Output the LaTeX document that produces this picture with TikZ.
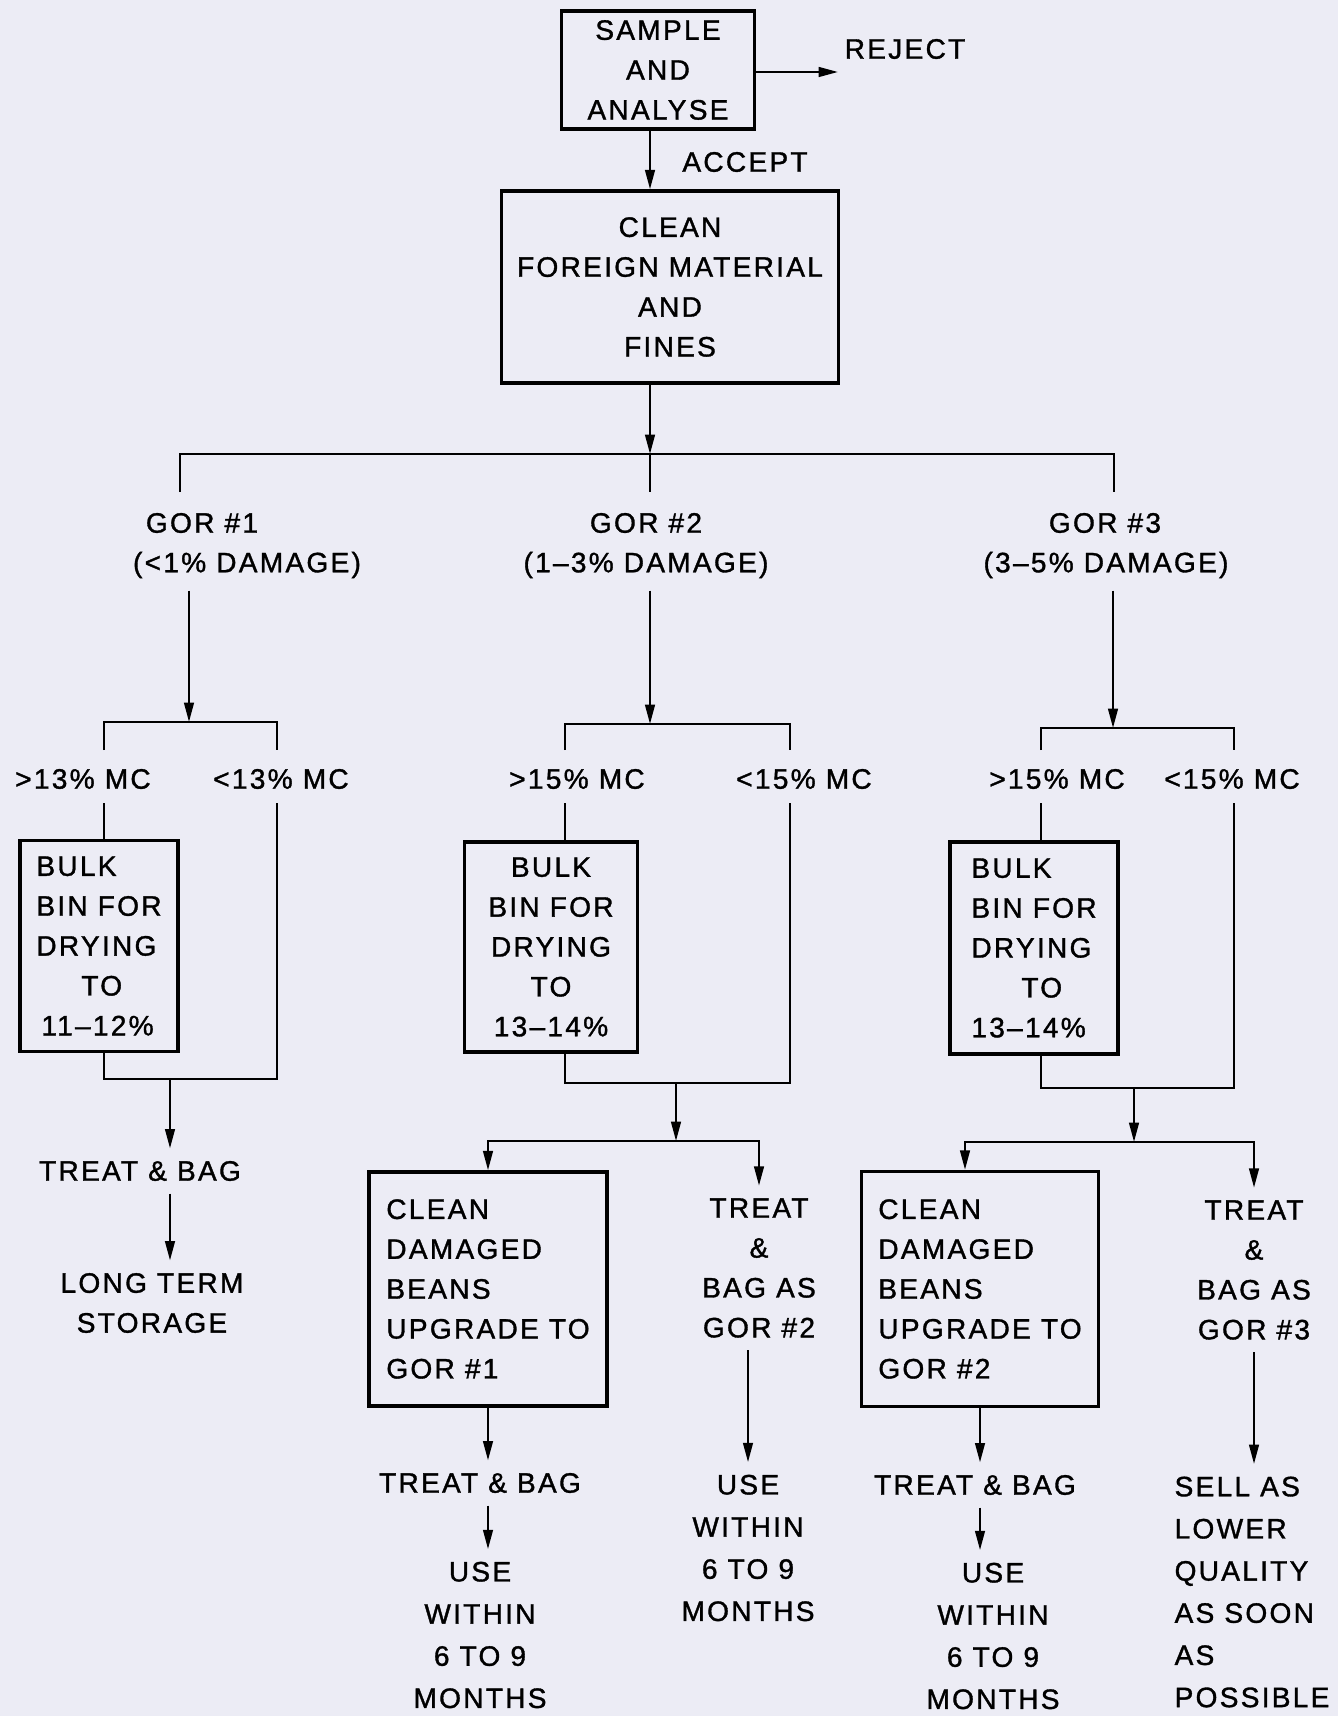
\documentclass[tikz,border=0pt]{standalone}
\usepackage{fontspec}
\setmainfont[LetterSpace=8,FakeBold=1.2]{Liberation Sans}
\usepackage{tikz}
\usetikzlibrary{arrows.meta}
\definecolor{paper}{RGB}{236,236,245}

\begin{document}
\begin{tikzpicture}[x=0.02cm,y=-0.02cm,
  font={\fontsize{16}{22.7}\selectfont},
  box/.style={draw,line width=2pt,align=center,inner sep=0pt},
  lbl/.style={align=center,inner sep=7pt},
  tall/.style={font={\fontsize{16}{24}\selectfont}},
  wire/.style={line width=1.3pt},
  flow/.style={wire,-{Triangle[length=11pt,width=5.5pt]}}]
\useasboundingbox (0,0) rectangle (1338,1716);
\fill[paper] (0,0) rectangle (1338,1716);

% sampling and first cleaning
\node[box,minimum width=3.86cm,minimum height=2.36cm] (sample) at (658,70) {SAMPLE\\AND\\ANALYSE};
\node[lbl] (reject) at (905,49) {REJECT};
\coordinate (rj) at (838,72);
\draw[flow] (sample.east |- rj) -- (rj);
\node[box,minimum width=6.74cm,minimum height=3.84cm] (clean) at (670,287) {CLEAN\\FOREIGN MATERIAL\\AND\\FINES};
\node[lbl] (accept) at (745,162) {ACCEPT};
\coordinate (trunk) at (650,454);
\draw[flow] (sample.south -| trunk) -- (clean.north -| trunk);
\draw[flow] (clean.south -| trunk) -- (trunk);
\coordinate (d1) at (180,492);
\coordinate (d2) at (650,492);
\coordinate (d3) at (1114,492);
\draw[wire] (d1) |- (trunk) -| (d3);
\draw[wire] (trunk) -- (d2);

\node[lbl] (gor1) at (202,523) {GOR \#1};
\node[lbl] (dmg1) at (247,565) {(<1\% DAMAGE)};
\node[lbl] (gor2) at (646,523) {GOR \#2};
\node[lbl] (dmg2) at (646,565) {(1--3\% DAMAGE)};
\node[lbl] (gor3) at (1105,523) {GOR \#3};
\node[lbl] (dmg3) at (1106,565) {(3--5\% DAMAGE)};

% GOR 1
\coordinate (j1) at (189,722);
\draw[flow] (dmg1.south -| j1) -- (j1);
\coordinate (l1) at (104,750);
\coordinate (r1) at (277,750);
\draw[wire] (l1) |- (j1) -| (r1);
\node[lbl] (hi1) at (83,779) {>13\% MC};
\node[lbl] (lo1) at (281,779) {<13\% MC};
\coordinate (l1b) at (104,803);
\coordinate (r1b) at (277,803);
\node[box,align=left,minimum width=3.16cm,minimum height=4.22cm] (bulk1) at (99,946) {BULK\\BIN FOR\\DRYING\\\hspace*{0.9cm}TO\\\hspace*{0.1cm}11--12\%};
\draw[wire] (l1b) -- (bulk1.north -| l1b);
\coordinate (k1) at (170,1079);
\draw[wire] (bulk1.south -| l1b) |- (k1) -| (r1b);
\node[lbl] (bag1) at (140,1171) {TREAT \& BAG};
\draw[flow] (k1) -- (bag1.north -| k1);
\node[lbl] (store) at (152,1303) {LONG TERM\\STORAGE};
\draw[flow] (bag1.south -| k1) -- (store.north -| k1);

% GOR 2
\coordinate (j2) at (650,724);
\draw[flow] (dmg2.south -| j2) -- (j2);
\coordinate (l2) at (565,750);
\coordinate (r2) at (790,750);
\draw[wire] (l2) |- (j2) -| (r2);
\node[lbl] (hi2) at (577,779) {>15\% MC};
\node[lbl] (lo2) at (804,779) {<15\% MC};
\coordinate (l2b) at (565,803);
\coordinate (r2b) at (790,803);
\node[box,minimum width=3.46cm,minimum height=4.2cm] (bulk2) at (551,947) {BULK\\BIN FOR\\DRYING\\TO\\13--14\%};
\draw[wire] (l2b) -- (bulk2.north -| l2b);
\coordinate (k2) at (676,1083);
\draw[wire] (bulk2.south -| l2b) |- (k2) -| (r2b);
\coordinate (s2) at (676,1141);
\draw[flow] (k2) -- (s2);
\node[box,align=left,minimum width=4.76cm,minimum height=4.68cm] (up1) at (488,1289) {CLEAN\\DAMAGED\\BEANS\\UPGRADE TO\\GOR \#1};
\node[lbl] (bag2) at (759,1268) {TREAT\\\&\\BAG AS\\GOR \#2};
\draw[flow] (s2) -| (up1.north);
\draw[flow] (s2) -| (bag2.north);
\node[lbl] (bag3) at (480,1483) {TREAT \& BAG};
\draw[flow] (up1.south) -- (bag3.north -| up1.south);
\node[lbl,tall] (use1) at (480,1635) {USE\\WITHIN\\6 TO 9\\MONTHS};
\draw[flow] (bag3.south -| up1.south) -- (use1.north -| up1.south);
\node[lbl,tall] (use2) at (748,1548) {USE\\WITHIN\\6 TO 9\\MONTHS};
\draw[flow] (bag2.south -| use2.north) -- (use2.north);

% GOR 3
\coordinate (j3) at (1113,728);
\draw[flow] (dmg3.south -| j3) -- (j3);
\coordinate (l3) at (1041,750);
\coordinate (r3) at (1234,750);
\draw[wire] (l3) |- (j3) -| (r3);
\node[lbl] (hi3) at (1057,779) {>15\% MC};
\node[lbl] (lo3) at (1232,779) {<15\% MC};
\coordinate (l3b) at (1041,803);
\coordinate (r3b) at (1234,803);
\node[box,align=left,minimum width=3.36cm,minimum height=4.24cm] (bulk3) at (1034,948) {BULK\\BIN FOR\\DRYING\\\hspace*{1cm}TO\\13--14\%};
\draw[wire] (l3b) -- (bulk3.north -| l3b);
\coordinate (k3) at (1134,1088);
\draw[wire] (bulk3.south -| l3b) |- (k3) -| (r3b);
\coordinate (s3) at (1134,1142);
\draw[flow] (k3) -- (s3);
\node[box,align=left,minimum width=4.74cm,minimum height=4.7cm] (up2) at (980,1289) {CLEAN\\DAMAGED\\BEANS\\UPGRADE TO\\GOR \#2};
\node[lbl] (bag4) at (1254,1270) {TREAT\\\&\\BAG AS\\GOR \#3};
\draw[flow] (s3) -| ([xshift=-0.3cm]up2.north);
\draw[flow] (s3) -| (bag4.north);
\node[lbl] (bag5) at (975,1485) {TREAT \& BAG};
\draw[flow] (up2.south) -- (bag5.north -| up2.south);
\node[lbl,tall] (use3) at (993,1636) {USE\\WITHIN\\6 TO 9\\MONTHS};
\draw[flow] (bag5.south -| up2.south) -- (use3.north -| up2.south);
\node[lbl,tall,align=left] (sell) at (1252,1592) {SELL AS\\LOWER\\QUALITY\\AS SOON\\AS\\POSSIBLE};
\draw[flow] (bag4.south) -- (bag4.south |- sell.north);
\end{tikzpicture}
\end{document}
